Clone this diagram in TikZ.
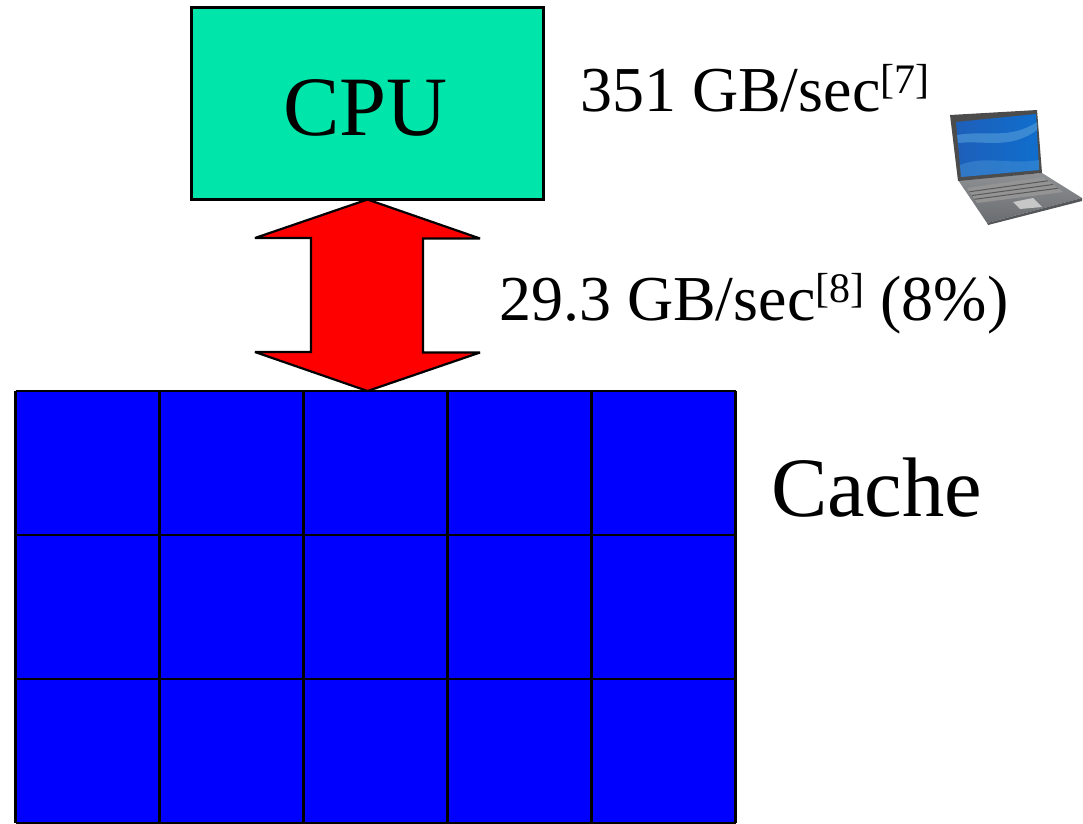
\documentclass[tikz,border=0pt]{standalone}
\usepackage{fontspec}
\usetikzlibrary{calc}
\setmainfont{Liberation Serif}
\definecolor{cacheblue}{RGB}{0,0,255}
\definecolor{cpugreen}{RGB}{0,230,170}
\definecolor{lapgrey}{RGB}{105,108,112}
\definecolor{scrA}{RGB}{30,95,185}
\definecolor{scrB}{RGB}{75,150,215}
\definecolor{scrC}{RGB}{15,110,205}
\tikzset{
  cell/.style={minimum width=144pt,minimum height=144pt,inner sep=0pt,outer sep=0pt,fill=cacheblue},
  big/.style={inner sep=0pt,outer sep=0pt,font=\fontsize{84.5}{85}\selectfont},
  rate/.style={inner sep=0pt,outer sep=0pt,anchor=base west,font=\fontsize{64}{64}\selectfont},
  rule/.style={draw=black,line width=2.2pt},
}
\newcommand{\sups}[1]{\raisebox{18pt}{\fontsize{42}{42}\selectfont[#1]}}
\begin{document}
\begin{tikzpicture}[x=1pt,y=-1pt]
\useasboundingbox (0,0) rectangle (1083,823);
% cache grid
\foreach \r/\yy in {0/463,1/607,2/751}{
  \foreach \c/\xx in {0/87.5,1/231.5,2/375.5,3/519.5,4/663.5}{
    \node[cell] (c\r\c) at (\xx,\yy) {};
  }
}
\foreach \r in {0,1,2}{
  \draw[rule] (c\r0.north west) -- (c\r4.north east);
  \draw[rule] (c\r0.south west) -- (c\r4.south east);
}
\foreach \c in {0,1,2,3,4}{
  \draw[rule] (c0\c.north west) -- (c2\c.south west);
  \draw[rule] (c0\c.north east) -- (c2\c.south east);
}
% CPU
\node[rule,fill=cpugreen,minimum width=352pt,minimum height=192pt,inner sep=0pt,outer sep=0pt] (cpu) at (367.5,103.5) {};
\node[big,anchor=base] (cputext) at (365.5,135) {CPU};
% double arrow
\coordinate (tipB) at (cpu.south |- c02.north);
\draw[rule,fill=red,line join=miter,miter limit=2] (cpu.south)
  -- ++(112.5,39) -- ++(-57,0) -- ++(0,114) -- ++(57,0) -- (tipB) -- ++(-112.5,-39)
  -- ++(56,0) -- ++(0,-114) -- ++(-56,0) -- cycle;
% labels
\node[rate] (r1) at (580,111) {351 GB/sec\sups{7}};
\node[rate] (r2) at (499,320) {29.3 GB/sec\sups{8} (8\%)};
\node[big,anchor=base west] (cache) at (771,516) {Cache};
% laptop
\shade[top color=lapgrey!75,bottom color=lapgrey] (958,180) -- (1042,173) -- (1082,198) -- (987,223) -- cycle;
\fill[lapgrey!80!black] (987,223) -- (1082,198) -- (1082,201) -- (988,225) -- cycle;
\fill[black!70] (950,115) -- (1037,110) -- (1042,173) -- (958,181) -- cycle;
\shade[left color=scrA,right color=scrC] (956,122) -- (1036,114) -- (1039,170) -- (961,177) -- cycle;
\fill[scrB,opacity=.7] (957,135) .. controls (985,130) and (1010,140) .. (1037,122) -- (1037,130) .. controls (1010,150) and (985,140) .. (958,143) -- cycle;
\fill[scrB,opacity=.45] (960,165) .. controls (985,155) and (1010,165) .. (1039,160) -- (1039,170) -- (961,177) -- cycle;
\fill[black!42] (967,188) -- (1043,177) -- (1063,192) -- (977,203) -- cycle;
\foreach \t in {0.25,0.5,0.75}{
  \draw[black!65,line width=1pt] ($(967,188)!\t!(977,203)$) -- ($(1043,177)!\t!(1063,192)$);
}
\fill[black!22] (1013,202) -- (1033,198) -- (1042,207) -- (1020,209) -- cycle;
\end{tikzpicture}
\end{document}
